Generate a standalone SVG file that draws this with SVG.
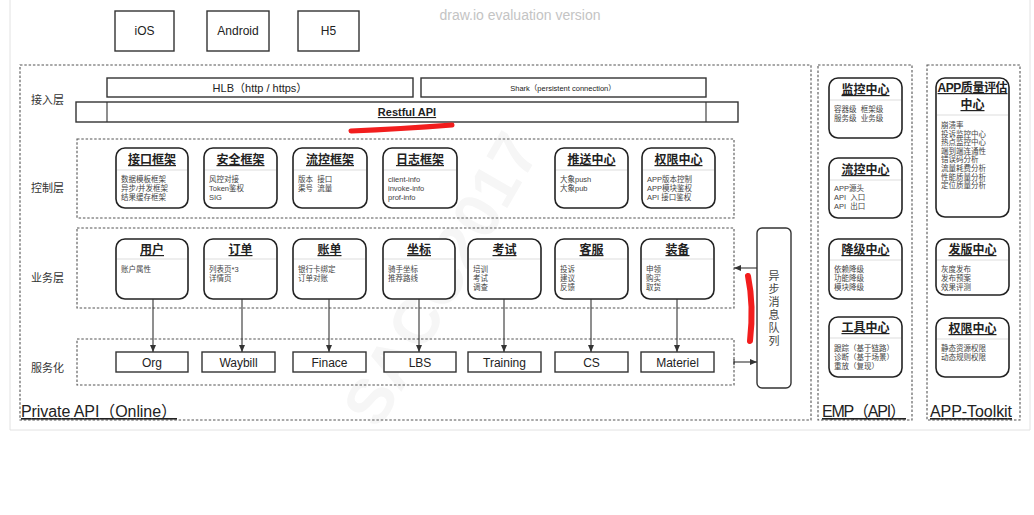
<svg xmlns="http://www.w3.org/2000/svg" width="1034" height="515" viewBox="0 0 1034 515">
<style>
text{font-family:"Liberation Sans","Noto Sans CJK SC",sans-serif;fill:#222}
.frame{fill:none;stroke:#e2e2e2;stroke-width:1}
.dash{fill:none;stroke:#555;stroke-width:1.1;stroke-dasharray:2.5 1.8}
.box{fill:#fff;stroke:#333;stroke-width:1.4}
.n{fill:#fff;stroke:#222;stroke-width:1.6}
.sep{stroke:#ddd;stroke-width:1}
.t{font-size:12px;font-weight:bold;text-anchor:middle;text-decoration:underline}
.s{font-size:7.5px;fill:#444;white-space:pre}
.lbl{font-size:11px;fill:#333}
.c{text-anchor:middle}
.big{font-size:16px;text-decoration:underline}
.edge{stroke:#333;stroke-width:1.1;fill:none}
.red{stroke:#f21d1d;fill:none;stroke-linecap:round}
</style>
<defs>
<marker id="ah" markerWidth="8" markerHeight="8" refX="7" refY="4" orient="auto" markerUnits="userSpaceOnUse">
<path d="M0,1 L7,4 L0,7 Z" fill="#333"/>
</marker>
</defs>
<rect width="1034" height="515" fill="#fff"/>
<path class="frame" d="M10,0 V430 H1030 V0"/>
<text x="520" y="20" class="c" style="font-size:14px;fill:#c4c4c4">draw.io evaluation version</text>
<text x="460" y="290" class="c" transform="rotate(-60 460 290)" style="font-size:64px;font-weight:bold;fill:#f6f6f6">SACC2017</text>

<!-- clients -->
<g id="ios"><rect class="box" x="115" y="11" width="59" height="40"/><text x="144.5" y="35" class="c" style="font-size:12px">iOS</text></g>
<g id="android"><rect class="box" x="207" y="11" width="62" height="40"/><text x="238" y="35" class="c" style="font-size:12px">Android</text></g>
<g id="h5"><rect class="box" x="298" y="11" width="61" height="40"/><text x="328.5" y="35" class="c" style="font-size:12px">H5</text></g>

<!-- containers -->
<g id="private-api">
<rect class="dash" x="20" y="65" width="791" height="355"/>
<text x="21" y="417" class="big" textLength="156">Private API（Online）</text>
</g>
<g id="emp">
<rect class="dash" x="818" y="65" width="94" height="355"/>
<text x="822" y="417" class="big" textLength="84">EMP（API）</text>
</g>
<g id="app-toolkit">
<rect class="dash" x="927" y="65" width="93" height="355"/>
<text x="930" y="417" class="big" textLength="82">APP-Toolkit</text>
</g>

<!-- access layer -->
<g id="layer-access">
<text x="31" y="104" class="lbl">接入层</text>
<g id="hlb"><rect class="box" x="107" y="78" width="306" height="19"/><text x="260" y="91.5" class="c" style="font-size:11px">HLB（http / https）</text></g>
<g id="shark"><rect class="box" x="421" y="78" width="285" height="19"/><text x="563" y="90.5" class="c" style="font-size:7.5px">Shark（persistent connection）</text></g>
<g id="restful"><rect class="box" x="76" y="102" width="662" height="20"/><path class="edge" d="M107,102 V122 M706,102 V122" stroke-width="1.4"/><text x="407" y="116" class="c" style="font-size:11px;font-weight:bold;text-decoration:underline">Restful API</text></g>
</g>

<!-- control layer -->
<g id="layer-control">
<rect class="dash" x="77" y="139" width="657" height="79"/>
<text x="31" y="192" class="lbl">控制层</text>
</g>
<g id="ctrl-interface"><rect class="n" x="116" y="148" width="72" height="60" rx="9"/><line class="sep" x1="117" y1="170" x2="187" y2="170"/><text x="152" y="164" class="t">接口框架</text><text class="s" x="121" y="181.5">数据模板框架</text><text class="s" x="121" y="190.5">异步/并发框架</text><text class="s" x="121" y="199.5">结果缓存框架</text></g>
<g id="ctrl-security"><rect class="n" x="204" y="148" width="73" height="60" rx="9"/><line class="sep" x1="205" y1="170" x2="276" y2="170"/><text x="240.5" y="164" class="t">安全框架</text><text class="s" x="209" y="181.5">风控对接</text><text class="s" x="209" y="190.5">Token鉴权</text><text class="s" x="209" y="199.5">SIG</text></g>
<g id="ctrl-flow"><rect class="n" x="293" y="148" width="74" height="60" rx="9"/><line class="sep" x1="294" y1="170" x2="366" y2="170"/><text x="330" y="164" class="t">流控框架</text><text class="s" x="298" y="181.5">版本  接口</text><text class="s" x="298" y="190.5">渠号  流量</text></g>
<g id="ctrl-log"><rect class="n" x="383" y="148" width="74" height="60" rx="9"/><line class="sep" x1="384" y1="170" x2="456" y2="170"/><text x="420" y="164" class="t">日志框架</text><text class="s" x="388" y="181.5">client-info</text><text class="s" x="388" y="190.5">invoke-info</text><text class="s" x="388" y="199.5">prof-info</text></g>
<g id="ctrl-push"><rect class="n" x="555" y="148" width="73" height="60" rx="9"/><line class="sep" x1="556" y1="170" x2="627" y2="170"/><text x="591.5" y="164" class="t">推送中心</text><text class="s" x="560" y="181.5">大象push</text><text class="s" x="560" y="190.5">大象pub</text></g>
<g id="ctrl-auth"><rect class="n" x="642" y="148" width="73" height="60" rx="9"/><line class="sep" x1="643" y1="170" x2="714" y2="170"/><text x="678.5" y="164" class="t">权限中心</text><text class="s" x="647" y="181.5">APP版本控制</text><text class="s" x="647" y="190.5">APP模块鉴权</text><text class="s" x="647" y="199.5">API 接口鉴权</text></g>

<!-- business layer -->
<g id="layer-business">
<rect class="dash" x="77" y="228" width="657" height="80"/>
<text x="31" y="282" class="lbl">业务层</text>
</g>
<g id="biz-user"><rect class="n" x="116" y="239" width="72" height="60" rx="9"/><line class="sep" x1="117" y1="259" x2="187" y2="259"/><text x="152" y="254" class="t">用户</text><text class="s" x="121" y="272">账户属性</text></g>
<g id="biz-order"><rect class="n" x="204" y="239" width="73" height="60" rx="9"/><line class="sep" x1="205" y1="259" x2="276" y2="259"/><text x="240.5" y="254" class="t">订单</text><text class="s" x="209" y="272">列表页*3</text><text class="s" x="209" y="281">详情页</text></g>
<g id="biz-bill"><rect class="n" x="293" y="239" width="73" height="60" rx="9"/><line class="sep" x1="294" y1="259" x2="365" y2="259"/><text x="329.5" y="254" class="t">账单</text><text class="s" x="298" y="272">银行卡绑定</text><text class="s" x="298" y="281">订单对账</text></g>
<g id="biz-coord"><rect class="n" x="383" y="239" width="72" height="60" rx="9"/><line class="sep" x1="384" y1="259" x2="454" y2="259"/><text x="419" y="254" class="t">坐标</text><text class="s" x="388" y="272">骑手坐标</text><text class="s" x="388" y="281">推荐路线</text></g>
<g id="biz-exam"><rect class="n" x="468" y="239" width="73" height="60" rx="9"/><line class="sep" x1="469" y1="259" x2="540" y2="259"/><text x="504.5" y="254" class="t">考试</text><text class="s" x="473" y="272">培训</text><text class="s" x="473" y="281">考试</text><text class="s" x="473" y="290">调查</text></g>
<g id="biz-cs"><rect class="n" x="555" y="239" width="73" height="60" rx="9"/><line class="sep" x1="556" y1="259" x2="627" y2="259"/><text x="591.5" y="254" class="t">客服</text><text class="s" x="560" y="272">投诉</text><text class="s" x="560" y="281">建议</text><text class="s" x="560" y="290">反馈</text></g>
<g id="biz-equip"><rect class="n" x="641" y="239" width="73" height="60" rx="9"/><line class="sep" x1="642" y1="259" x2="713" y2="259"/><text x="677.5" y="254" class="t">装备</text><text class="s" x="646" y="272">申领</text><text class="s" x="646" y="281">购买</text><text class="s" x="646" y="290">取货</text></g>

<!-- service layer -->
<g id="layer-service">
<rect class="dash" x="77" y="339" width="657" height="46"/>
<text x="31" y="372" class="lbl">服务化</text>
</g>
<g id="svc-org"><rect class="box" x="116" y="352" width="72" height="20"/><text x="152" y="366.5" class="c" style="font-size:12px">Org</text></g>
<g id="svc-waybill"><rect class="box" x="202" y="352" width="73" height="20"/><text x="238.5" y="366.5" class="c" style="font-size:12px">Waybill</text></g>
<g id="svc-finace"><rect class="box" x="293" y="352" width="73" height="20"/><text x="329.5" y="366.5" class="c" style="font-size:12px">Finace</text></g>
<g id="svc-lbs"><rect class="box" x="384" y="352" width="72" height="20"/><text x="420" y="366.5" class="c" style="font-size:12px">LBS</text></g>
<g id="svc-training"><rect class="box" x="468" y="352" width="73" height="20"/><text x="504.5" y="366.5" class="c" style="font-size:12px">Training</text></g>
<g id="svc-cs"><rect class="box" x="555" y="352" width="73" height="20"/><text x="591.5" y="366.5" class="c" style="font-size:12px">CS</text></g>
<g id="svc-materiel"><rect class="box" x="641" y="352" width="73" height="20"/><text x="677.5" y="366.5" class="c" style="font-size:12px">Materiel</text></g>

<!-- queue -->
<g id="mq">
<rect class="box" x="757" y="228" width="34" height="160" rx="5"/>
<text class="c" x="774" y="280" style="font-size:11px;fill:#444">异</text>
<text class="c" x="774" y="293" style="font-size:11px;fill:#444">步</text>
<text class="c" x="774" y="306" style="font-size:11px;fill:#444">消</text>
<text class="c" x="774" y="319" style="font-size:11px;fill:#444">息</text>
<text class="c" x="774" y="332" style="font-size:11px;fill:#444">队</text>
<text class="c" x="774" y="345" style="font-size:11px;fill:#444">列</text>
</g>

<!-- EMP nodes -->
<g id="emp-monitor"><rect class="n" x="829" y="78" width="73" height="60" rx="9"/><line class="sep" x1="830" y1="100" x2="901" y2="100"/><text x="865.5" y="94" class="t">监控中心</text><text class="s" x="834" y="112">容器级  框架级</text><text class="s" x="834" y="121">服务级  业务级</text></g>
<g id="emp-flow"><rect class="n" x="829" y="158" width="73" height="60" rx="9"/><line class="sep" x1="830" y1="180" x2="901" y2="180"/><text x="865.5" y="174" class="t">流控中心</text><text class="s" x="834" y="191">APP源头</text><text class="s" x="834" y="200">API  入口</text><text class="s" x="834" y="209">API  出口</text></g>
<g id="emp-degrade"><rect class="n" x="829" y="239" width="73" height="60" rx="9"/><line class="sep" x1="830" y1="260" x2="901" y2="260"/><text x="865.5" y="254" class="t">降级中心</text><text class="s" x="834" y="272">依赖降级</text><text class="s" x="834" y="281">功能降级</text><text class="s" x="834" y="290">模块降级</text></g>
<g id="emp-tools"><rect class="n" x="829" y="317" width="73" height="60" rx="9"/><line class="sep" x1="830" y1="338" x2="901" y2="338"/><text x="865.5" y="332" class="t">工具中心</text><text class="s" x="834" y="351">跟踪（基于链路）</text><text class="s" x="834" y="360">诊断（基于场景）</text><text class="s" x="834" y="369">重放（复现）</text></g>

<!-- APP-Toolkit nodes -->
<g id="tk-quality"><rect class="n" x="936" y="78" width="73" height="139" rx="9"/><line class="sep" x1="937" y1="115" x2="1008" y2="115"/><text x="972.5" y="92" class="t" textLength="70">APP质量评估</text><text x="972.5" y="109" class="t">中心</text>
<text class="s" x="941" y="128">崩溃率</text><text class="s" x="941" y="136.6">投诉监控中心</text><text class="s" x="941" y="145.2">热点监控中心</text><text class="s" x="941" y="153.8">端到端连通性</text><text class="s" x="941" y="162.4">错误码分析</text><text class="s" x="941" y="171">流量耗费分析</text><text class="s" x="941" y="179.6">性能质量分析</text><text class="s" x="941" y="188.2">定位质量分析</text></g>
<g id="tk-release"><rect class="n" x="936" y="239" width="73" height="56" rx="9"/><line class="sep" x1="937" y1="260" x2="1008" y2="260"/><text x="972.5" y="254" class="t">发版中心</text><text class="s" x="941" y="272">灰度发布</text><text class="s" x="941" y="281">发布预案</text><text class="s" x="941" y="290">效果评测</text></g>
<g id="tk-auth"><rect class="n" x="936" y="318" width="73" height="59" rx="9"/><line class="sep" x1="937" y1="339" x2="1008" y2="339"/><text x="972.5" y="333" class="t">权限中心</text><text class="s" x="941" y="351">静态资源权限</text><text class="s" x="941" y="360">动态规则权限</text></g>

<!-- connectors -->
<g id="connectors">
<path class="edge" marker-end="url(#ah)" d="M153,299 V352"/>
<path class="edge" marker-end="url(#ah)" d="M242,299 V352"/>
<path class="edge" marker-end="url(#ah)" d="M329,299 V352"/>
<path class="edge" marker-end="url(#ah)" d="M419,299 V352"/>
<path class="edge" marker-end="url(#ah)" d="M504,299 V352"/>
<path class="edge" marker-end="url(#ah)" d="M591,299 V352"/>
<path class="edge" marker-end="url(#ah)" d="M677,299 V352"/>
<path class="edge" marker-end="url(#ah)" d="M757,268 H734"/>
<path class="edge" marker-end="url(#ah)" d="M734,362 H757"/>
<path class="edge" d="M734,359 V365"/>
</g>

<!-- red annotations -->
<path class="red" stroke-width="5" d="M351,131 Q400,129 452,125"/>
<path class="red" stroke-width="6" d="M748,276 Q754,305 750,341"/>
</svg>
